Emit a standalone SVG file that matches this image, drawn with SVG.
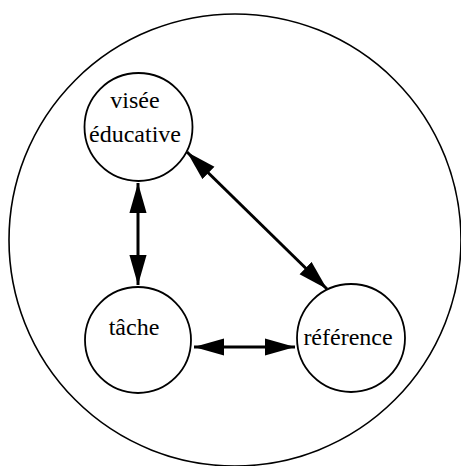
<svg xmlns="http://www.w3.org/2000/svg" width="461" height="466" viewBox="0 0 461 466">
<defs>
<style>
.c{fill:#fff;stroke:#000;stroke-width:1.8}
.t{font-family:"Liberation Serif","Times New Roman",serif;font-size:24px;fill:#000;text-anchor:middle}
.e{stroke:#000;stroke-width:3;fill:none;marker-start:url(#ah);marker-end:url(#ah)}
</style>
<marker id="ah" markerUnits="userSpaceOnUse" markerWidth="30" markerHeight="18" refX="28" refY="8" orient="auto-start-reverse" viewBox="0 0 28 16">
<path d="M0,0 L28,8 L0,16 z" fill="#000"/>
</marker>
</defs>
<rect width="461" height="466" fill="#fff"/>
<circle cx="235" cy="240" r="226" fill="none" stroke="#000" stroke-width="1.6"/>
<g id="connectors">
<line class="e" x1="138" y1="183" x2="138" y2="285"/>
<line class="e" x1="187" y1="152" x2="327" y2="289"/>
<line class="e" x1="194" y1="347" x2="295" y2="347"/>
</g>
<g id="visee">
<circle class="c" cx="138.5" cy="127" r="54"/>
<text class="t" x="135" y="108">visée</text>
<text class="t" x="135" y="142">éducative</text>
</g>
<g id="tache">
<circle class="c" cx="138" cy="340" r="53"/>
<text class="t" x="134" y="335">tâche</text>
</g>
<g id="reference">
<circle class="c" cx="351" cy="338" r="54"/>
<text class="t" x="348" y="345">référence</text>
</g>
</svg>
